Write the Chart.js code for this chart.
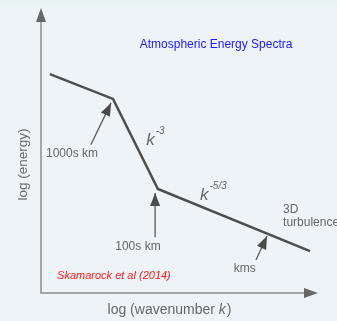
<!DOCTYPE html>
<html lang="en">
<head>
    <meta charset="UTF-8">
    <title>Atmospheric Energy Spectra</title>
    <script src="https://cdn.jsdelivr.net/npm/chart.js"></script>
    <style>
        html, body { margin: 0; padding: 0; background: #eef3f7; }
        #wrap { width: 337px; height: 321px; position: relative; }
    </style>
</head>
<body>
    <div id="wrap"><canvas id="spectrum" width="337" height="321"></canvas></div>

    <script>
        // spectrum in arbitrary log units (x: log wavenumber, y: log energy)
        const logK = [0.32, 2.60, 4.22, 9.71];
        const logE = [7.68, 6.81, 3.65, 1.47];

        // pointer arrows: [tailX, tailY, tipX, tipY]
        const arrows = [
            [1.80, 5.20, 2.53, 6.67],
            [4.12, 1.96, 4.12, 3.51],
            [7.76, 1.16, 8.16, 2.00]
        ];

        // text labels: [text, x, y, align]
        const labels = [
            ['1000s km', 1.12, 4.88, 'center'],
            ['100s km', 3.50, 1.61, 'center'],
            ['kms', 7.36, 0.84, 'center'],
            ['3D', 8.74, 2.91, 'left'],
            ['turbulence', 8.74, 2.45, 'left']
        ];

        const slopes = [
            ['k', '-3', 3.80, 5.35],
            ['k', '-5/3', 5.74, 3.44]
        ];

        const title = 'Atmospheric Energy Spectra';
        const source = 'Skamarock et al (2014)';
        const xTitle = ['log (wavenumber ', 'k', ')'];
        const yTitle = 'log (energy)';

        const FONT = '"Liberation Sans", Arial, Helvetica, sans-serif';

        function arrowHead(ctx, x0, y0, x1, y1, len, wid) {
            const a = Math.atan2(y1 - y0, x1 - x0);
            ctx.beginPath();
            ctx.moveTo(x1, y1);
            ctx.lineTo(x1 - len * Math.cos(a) + wid / 2 * Math.sin(a), y1 - len * Math.sin(a) - wid / 2 * Math.cos(a));
            ctx.lineTo(x1 - len * Math.cos(a) - wid / 2 * Math.sin(a), y1 - len * Math.sin(a) + wid / 2 * Math.cos(a));
            ctx.closePath();
            ctx.fill();
        }

        const background = {
            id: 'background',
            beforeDraw(chart) {
                const ctx = chart.ctx;
                ctx.save();
                ctx.fillStyle = '#eef3f7';
                ctx.fillRect(0, 0, chart.width, chart.height);
                ctx.fillStyle = '#e7f3f3';
                ctx.fillRect(0, 0, chart.width, 3);
                ctx.restore();
            }
        };

        const decorations = {
            id: 'decorations',
            beforeDatasetsDraw(chart) {
                const ctx = chart.ctx;
                const xs = chart.scales.x, ys = chart.scales.y;
                const ox = xs.getPixelForValue(0), oy = ys.getPixelForValue(0);
                const ex = xs.getPixelForValue(10), ey = ys.getPixelForValue(10);
                ctx.save();
                // axes with arrow heads
                ctx.strokeStyle = '#8c8c8c';
                ctx.fillStyle = '#666';
                ctx.lineWidth = 1.5;
                ctx.beginPath();
                ctx.moveTo(ox, ey + 8);
                ctx.lineTo(ox, oy);
                ctx.lineTo(ex - 8, oy);
                ctx.stroke();
                arrowHead(ctx, ox, oy, ox, ey, 14, 10);
                arrowHead(ctx, ox, oy, ex, oy, 14, 10);

                // axis titles
                ctx.fillStyle = '#666';
                ctx.textBaseline = 'middle';
                const t0 = xTitle[0], t1 = xTitle[1], t2 = xTitle[2];
                ctx.font = '14px ' + FONT;
                const w0 = ctx.measureText(t0).width;
                const w2 = ctx.measureText(t2).width;
                ctx.font = 'italic 14px ' + FONT;
                const w1 = ctx.measureText(t1).width;
                let tx = 169 - (w0 + w1 + w2) / 2;
                const ty = oy + 17;
                ctx.textAlign = 'left';
                ctx.font = '14px ' + FONT;
                ctx.fillText(t0, tx, ty);
                ctx.font = 'italic 14px ' + FONT;
                ctx.fillText(t1, tx + w0, ty);
                ctx.font = '14px ' + FONT;
                ctx.fillText(t2, tx + w0 + w1 + 1, ty);

                ctx.save();
                ctx.translate(ox - 18, (oy + ey) / 2 + 14);
                ctx.rotate(-Math.PI / 2);
                ctx.textAlign = 'center';
                ctx.font = '13.5px ' + FONT;
                ctx.fillText(yTitle, 0, 0);
                ctx.restore();

                // pointer arrows
                ctx.strokeStyle = '#5a5a5a';
                ctx.fillStyle = '#4a4a4a';
                ctx.lineWidth = 1.3;
                arrows.forEach(a => {
                    const x0 = xs.getPixelForValue(a[0]), y0 = ys.getPixelForValue(a[1]);
                    const x1 = xs.getPixelForValue(a[2]), y1 = ys.getPixelForValue(a[3]);
                    ctx.beginPath();
                    ctx.moveTo(x0, y0);
                    ctx.lineTo(x1, y1);
                    ctx.stroke();
                    arrowHead(ctx, x0, y0, x1, y1, 13, 10);
                });

                // labels
                ctx.fillStyle = '#666';
                ctx.font = '12px ' + FONT;
                labels.forEach(l => {
                    ctx.textAlign = l[3];
                    ctx.fillText(l[0], xs.getPixelForValue(l[1]), ys.getPixelForValue(l[2]));
                });

                // slope labels
                slopes.forEach(s => {
                    const px = xs.getPixelForValue(s[2]), py = ys.getPixelForValue(s[3]);
                    ctx.textAlign = 'left';
                    ctx.font = 'italic 17px ' + FONT;
                    ctx.fillText(s[0], px, py);
                    const kw = ctx.measureText(s[0]).width;
                    ctx.font = 'italic 10px ' + FONT;
                    ctx.fillText(s[1], px + kw + 1, py - 9);
                });

                // title and source
                ctx.textAlign = 'center';
                ctx.fillStyle = '#1a1aff';
                ctx.font = '12px ' + FONT;
                ctx.fillText(title, xs.getPixelForValue(6.32), ys.getPixelForValue(8.70));
                ctx.textAlign = 'left';
                ctx.fillStyle = '#ff1a1a';
                ctx.font = 'italic 11px ' + FONT;
                ctx.fillText(source, xs.getPixelForValue(0.58), ys.getPixelForValue(0.60));
                ctx.restore();
            }
        };

        new Chart(document.getElementById('spectrum'), {
            type: 'scatter',
            data: {
                datasets: [{
                    data: logK.map((k, i) => ({ x: k, y: logE[i] })),
                    showLine: true,
                    borderColor: '#4d4d4d',
                    borderWidth: 2.5,
                    pointRadius: 0,
                    tension: 0
                }]
            },
            options: {
                responsive: false,
                animation: false,
                layout: { padding: { left: 41, right: 19, top: 8, bottom: 28 } },
                plugins: {
                    legend: { display: false },
                    tooltip: { enabled: false }
                },
                scales: {
                    x: { type: 'linear', min: 0, max: 10, display: false },
                    y: { type: 'linear', min: 0, max: 10, display: false }
                }
            },
            plugins: [background, decorations]
        });
    </script>
</body>
</html>
